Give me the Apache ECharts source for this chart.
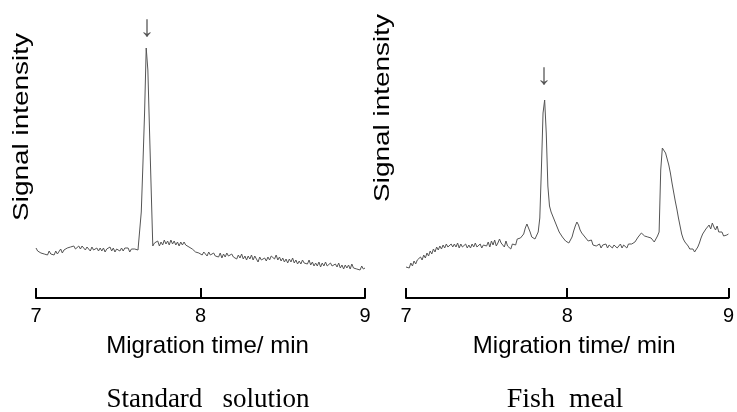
<!DOCTYPE html>
<html>
<head>
<meta charset="utf-8">
<script src="https://cdn.jsdelivr.net/npm/echarts@6/dist/echarts.min.js"></script>
<style>
html,body{margin:0;padding:0;background:#fff;}
#chart{width:737px;height:412px;}
</style>
</head>
<body>
<div id="chart"></div>
<script>
// Sampling grid of the electropherograms (minutes)
const timeStart = 7.0;
const timeStep = 0.01;
const xTicks = [7, 8, 9];

// Standard solution trace (arbitrary intensity units)
const standardSignal = [
  50,47,48,45,47,44,46,43,47,44,
  46,43,47,44,46,49,45,48,46,50,
  48,51,49,52,49,50,52,49,52,50,
  48,51,49,47,51,48,46,50,47,50,
  47,50,46,49,47,51,47,50,46,49,
  49,47,50,47,50,48,50,46,49,47,
  49,47,48,47,86,134,185,250,228,168,
  110,52,55,53,57,52,56,53,58,54,
  57,53,58,54,57,53,56,52,56,53,
  56,53,54,51,53,49,50,46,47,45,
  46,43,46,44,42,46,43,41,45,42,
  44,41,45,40,44,41,45,42,40,44,
  41,43,39,43,40,44,39,42,38,42,
  39,43,38,42,39,36,41,38,36,40,
  37,41,38,42,44,39,43,38,41,37,
  40,36,39,35,39,36,40,35,38,34,
  37,34,38,35,37,34,38,33,36,32,
  35,32,36,31,35,32,36,32,31,35,
  32,30,34,31,35,30,33,29,33,30,
  33,29,34,30,32,29,31,28,32,29,30
];

// Fish meal trace
const fishSignal = [
  31,33,30,35,32,37,34,38,36,41,
  38,43,40,45,42,47,44,49,46,51,
  48,52,49,53,50,54,51,50,54,51,
  54,51,55,50,54,51,49,54,50,53,
  50,54,51,55,51,49,54,50,53,55,
  52,56,51,57,53,58,52,55,59,55,
  56,51,57,52,50,49,54,56,53,59,
  57,60,59,64,70,74,72,66,61,60,
  59,61,66,80,130,185,198,165,112,92,
  86,82,78,74,70,66,64,61,60,57,
  56,55,57,61,67,72,76,73,68,65,
  64,61,60,57,56,58,53,55,52,53,
  54,50,53,51,54,50,53,51,50,53,
  53,50,52,54,50,53,51,50,54,52,
  54,55,56,58,61,63,65,64,62,63,
  61,62,60,58,56,59,62,66,128,150,
  152,145,139,133,125,115,106,97,89,80,
  72,64,59,56,55,52,49,47,49,46,
  48,51,55,60,64,66,69,71,73,69,
  75,71,68,72,66,64,66,62,64,63,64
];

// Marked analyte peaks (arrow annotations)
const standardPeak = [7.675, 255];
const fishPeak = [7.856, 201];

const panelTitles = ['Standard   solution', 'Fish  meal'];
const xTitle = 'Migration time/ min';
const yTitle = 'Signal intensity';

function toPairs(arr) {
  return arr.map((v, i) => [+(timeStart + i * timeStep).toFixed(2), v]);
}

const sans = '"Liberation Sans", Arial, sans-serif';
const serif = '"Liberation Serif", "Times New Roman", serif';

function xAxisCfg(gridIndex) {
  return {
    gridIndex: gridIndex,
    type: 'value',
    min: xTicks[0],
    max: xTicks[xTicks.length - 1],
    interval: 1,
    axisLine: {show: true, lineStyle: {color: '#000', width: 2}},
    axisTick: {show: true, inside: true, length: 10, lineStyle: {color: '#000', width: 2}},
    axisLabel: {show: true, color: '#000', fontSize: 20, fontFamily: sans, margin: 6},
    splitLine: {show: false},
    name: xTitle,
    nameLocation: 'middle',
    nameGap: 34,
    nameTextStyle: {color: '#000', fontSize: 24, fontFamily: sans, padding: [0, 0, 0, 14]}
  };
}
function yAxisCfg(gridIndex) {
  return {
    gridIndex: gridIndex,
    type: 'value',
    min: -2,
    max: 278,
    show: false
  };
}
function markCfg(coord, dist) {
  return {
    symbol: 'rect',
    symbolSize: [0.1, 0.1],
    itemStyle: {color: 'rgba(0,0,0,0)'},
    label: {show: true, position: 'top', distance: dist, formatter: '↓', color: '#555', fontSize: 30, fontFamily: sans},
    data: [{coord: coord}],
    animation: false
  };
}

const chart = echarts.init(document.getElementById('chart'), null, {renderer: 'canvas'});
chart.setOption({
  animation: false,
  backgroundColor: '#fff',
  grid: [
    {left: 36, top: 20, width: 329, height: 280},
    {left: 406, top: 20, width: 327, height: 280}
  ],
  xAxis: [xAxisCfg(0), xAxisCfg(1)],
  yAxis: [yAxisCfg(0), yAxisCfg(1)],
  series: [
    {
      type: 'line', xAxisIndex: 0, yAxisIndex: 0,
      data: toPairs(standardSignal),
      showSymbol: false, smooth: false,
      lineStyle: {color: '#555', width: 1},
      markPoint: markCfg(standardPeak, 0)
    },
    {
      type: 'line', xAxisIndex: 1, yAxisIndex: 1,
      data: toPairs(fishSignal),
      showSymbol: false, smooth: false,
      lineStyle: {color: '#555', width: 1},
      markPoint: markCfg(fishPeak, 6)
    }
  ],
  graphic: [
    {type: 'text', x: 22, y: 127, rotation: Math.PI / 2, scaleX: 1.27,
     style: {text: yTitle, font: '22px ' + sans, fill: '#000', align: 'center', verticalAlign: 'middle'}},
    {type: 'text', x: 383, y: 108, rotation: Math.PI / 2, scaleX: 1.27,
     style: {text: yTitle, font: '22px ' + sans, fill: '#000', align: 'center', verticalAlign: 'middle'}},
    {type: 'text', x: 208, y: 400,
     style: {text: panelTitles[0], font: '27px ' + serif, fill: '#000', align: 'center', verticalAlign: 'middle'}},
    {type: 'text', x: 565, y: 400,
     style: {text: panelTitles[1], font: '28px ' + serif, fill: '#000', align: 'center', verticalAlign: 'middle'}}
  ]
});
</script>
</body>
</html>
